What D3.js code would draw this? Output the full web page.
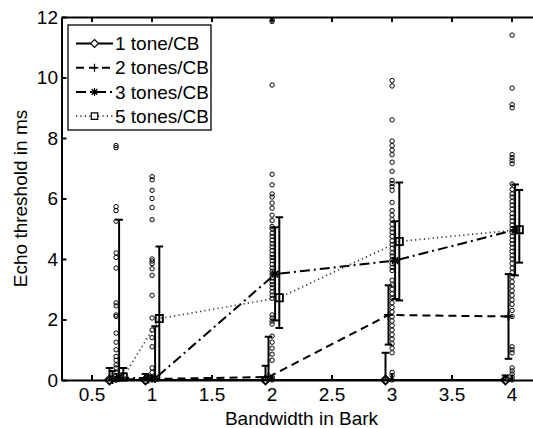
<!DOCTYPE html>
<html><head><meta charset="utf-8">
<script src="https://cdn.jsdelivr.net/npm/d3@7/dist/d3.min.js"></script>
<style>
html,body{margin:0;padding:0;background:#fff;}
svg{display:block;}
text{font-family:"Liberation Sans",Arial,Helvetica,sans-serif;fill:#000;}
</style></head>
<body>
<svg id="chart" width="533" height="428"></svg>
<script>
// ---- data ----
const bandwidths = [0.7, 1, 2, 3, 4];
const seriesNames = ["1 tone/CB", "2 tones/CB", "3 tones/CB", "5 tones/CB"];
const mean1 = [0, 0, 0, 0, 0];
const low1  = [-0.4, -0.2, -0.47, -0.9, -0.15];
const high1 = [0.4, 0.2, 0.47, 0.9, 0.15];
const mean2 = [0.02, 0.03, 0.1, 2.15, 2.1];
const low2  = [-0.3, -0.1, -1.23, 1.17, 0.7];
const high2 = [0.3, 0.15, 1.43, 3.13, 3.5];
const mean3 = [0.08, 0.05, 3.5, 3.95, 4.96];
const low3  = [-5.1, -1.7, 1.97, 2.68, 3.46];
const high3 = [5.3, 1.78, 5.05, 5.25, 6.46];
const mean5 = [0.1, 2.03, 2.72, 4.58, 4.97];
const low5  = [-0.2, -0.35, 1.72, 2.63, 3.88];
const high5 = [0.4, 4.41, 5.38, 6.53, 6.28];
// individual thresholds per bandwidth
const obs07 = [7.75, 7.68, 5.73, 5.6, 5.25, 4.2, 4.05, 3.7, 2.55, 2.45, 2.15, 2.1, 1.55, 1.25, 1.0, 0.78, 0.65, 0.5, 0.4, 0.25, 0.15, 0.05, 0, 0];
const obs1  = [6.72, 6.62, 6.27, 6.0, 5.7, 5.3, 4.0, 3.93, 3.85, 3.68, 3.46, 2.8, 2.05, 1.65, 1.4, 1.1, 0.4, 0.25, 0.1, 0.05, 0];
const obs2  = [11.9, 11.85, 9.75, 6.8, 6.45, 6.15, 6.05, 5.85, 5.68, 5.45, 5.27, 5.07, 5.0, 4.85, 4.75, 4.62, 4.5, 4.4, 4.28, 4.15, 4.05, 3.95, 3.82, 3.7, 3.6, 3.5, 3.38, 3.25, 3.15, 3.05, 2.92, 2.8, 2.7, 2.15, 2.05, 1.95, 1.85, 1.45, 1.25, 1.05, 0.85, 0.65, 0.1, 0.05, 0];
const obs3  = [9.9, 9.72, 8.6, 7.9, 7.75, 7.6, 7.45, 7.2, 6.9, 6.6, 6.5, 6.4, 6.27, 5.87, 5.6, 5.45, 5.3, 5.15, 5.0, 4.88, 4.75, 4.6, 4.48, 4.35, 4.2, 4.1, 3.98, 3.85, 3.72, 3.62, 3.3, 3.15, 3.0, 2.85, 2.7, 2.55, 2.4, 2.25, 2.1, 1.95, 1.8, 1.65, 1.5, 1.35, 1.2, 1.05, 0.9, 0.25, 0.15, 0];
const obs4  = [11.4, 9.65, 9.1, 9.0, 7.45, 7.35, 7.25, 7.15, 6.48, 6.3, 6.15, 6.05, 5.9, 5.78, 5.65, 5.5, 5.38, 5.25, 5.12, 5.0, 4.88, 4.75, 4.62, 4.5, 4.38, 4.25, 4.12, 4.0, 3.85, 3.7, 3.55, 3.4, 3.25, 3.1, 2.95, 2.8, 2.65, 2.5, 2.3, 2.1, 1.1, 1.0, 0.9, 0.4, 0.3, 0.2, 0.1, 0];
const xTickValues = [0.5, 1, 1.5, 2, 2.5, 3, 3.5, 4];
const xTickLabels = ["0.5", "1", "1.5", "2", "2.5", "3", "3.5", "4"];
const yTickValues = [0, 2, 4, 6, 8, 10, 12];
const yTickLabels = ["0", "2", "4", "6", "8", "10", "12"];
const xLabel = "Bandwidth in Bark";
const yLabel = "Echo threshold in ms";

// ---- layout / style ----
const FS = 19;
const svg = d3.select("#chart");
const x = d3.scaleLinear().domain([0.25, 4.25]).range([61.5, 541.5]);
const y = d3.scaleLinear().domain([0, 12]).range([380, 17]);
const seriesOffset = [-0.05, -0.025, 0.03, 0.065];
const obsOffset = 0.005;
const styles = [
  {dash: null, width: 2, color: "#000", marker: "diamond"},
  {dash: "8,5", width: 2, color: "#000", marker: "plus"},
  {dash: "10,4,2,4", width: 2, color: "#000", marker: "star"},
  {dash: "1.2,3.2", width: 1.7, color: "#333", marker: "square"}
];
const series = [
  {mean: mean1, low: low1, high: high1},
  {mean: mean2, low: low2, high: high2},
  {mean: mean3, low: low3, high: high3},
  {mean: mean5, low: low5, high: high5}
];
const observations = [obs07, obs1, obs2, obs3, obs4];

svg.append("defs").append("clipPath").attr("id", "clip")
  .append("rect").attr("x", x.range()[0]).attr("y", y.range()[1])
  .attr("width", x.range()[1] - x.range()[0]).attr("height", y.range()[0] - y.range()[1]);

// individual observations
const obsG = svg.append("g");
observations.forEach((vals, gi) => {
  obsG.selectAll(null).data(vals).enter().append("circle")
    .attr("cx", x(bandwidths[gi] + obsOffset))
    .attr("cy", d => y(d))
    .attr("r", 2.2)
    .attr("fill", "none").attr("stroke", "#000").attr("stroke-width", 1);
});

const plotG = svg.append("g").attr("clip-path", "url(#clip)");
const capHalf = 3.8;
series.forEach((s, si) => {
  const st = styles[si];
  const pts = bandwidths.map((b, i) => ({xv: b + seriesOffset[si], m: s.mean[i], lo: s.low[i], hi: s.high[i]}));
  // error bars
  const eb = plotG.append("g").attr("stroke", "#000").attr("stroke-width", 2);
  pts.forEach(p => {
    const px = x(p.xv);
    eb.append("line").attr("x1", px).attr("x2", px).attr("y1", y(p.lo)).attr("y2", y(p.hi));
    eb.append("line").attr("x1", px - capHalf).attr("x2", px + capHalf).attr("y1", y(p.hi)).attr("y2", y(p.hi));
    eb.append("line").attr("x1", px - capHalf).attr("x2", px + capHalf).attr("y1", y(p.lo)).attr("y2", y(p.lo));
  });
  const line = d3.line().x(p => x(p.xv)).y(p => y(p.m));
  plotG.append("path").datum(pts).attr("d", line)
    .attr("fill", "none").attr("stroke", st.color).attr("stroke-width", st.width)
    .attr("stroke-dasharray", st.dash);
});

function markerPath(type, r) {
  if (type === "diamond") return `M0,${-r}L${r},0L0,${r}L${-r},0Z`;
  if (type === "plus") return `M${-r},0H${r}M0,${-r}V${r}`;
  if (type === "star") { const d = r * 0.72; return `M${-r},0H${r}M0,${-r}V${r}M${-d},${-d}L${d},${d}M${-d},${d}L${d},${-d}`; }
  if (type === "square") return `M${-r},${-r}H${r}V${r}H${-r}Z`;
}
const mG = svg.append("g");
series.forEach((s, si) => {
  const st = styles[si];
  bandwidths.forEach((b, i) => {
    const r = st.marker === "square" ? 3.6 : 4.5;
    mG.append("path").attr("d", markerPath(st.marker, r))
      .attr("transform", `translate(${x(b + seriesOffset[si])},${y(s.mean[i])})`)
      .attr("fill", "none").attr("stroke", "#000").attr("stroke-width", 1.8);
  });
});

// axes
const fmtX = d => xTickLabels[xTickValues.indexOf(d)];
const fmtY = d => yTickLabels[yTickValues.indexOf(d)];
function styleAxis(g) {
  g.select(".domain").attr("stroke", "#000").attr("stroke-width", 2);
  g.selectAll(".tick line").attr("stroke", "#000").attr("stroke-width", 2);
  g.selectAll(".tick text").attr("font-size", FS).attr("font-family", null);
}
svg.append("g").attr("transform", `translate(0,${y(0)})`)
  .call(d3.axisBottom(x).tickValues(xTickValues).tickFormat(fmtX).tickSizeInner(-5).tickSizeOuter(0).tickPadding(7.5))
  .call(styleAxis);
svg.append("g").attr("transform", `translate(0,${y(12)})`)
  .call(d3.axisTop(x).tickValues(xTickValues).tickFormat("").tickSizeInner(-5).tickSizeOuter(0))
  .call(styleAxis);
svg.append("g").attr("transform", `translate(${x(0.25)},0)`)
  .call(d3.axisLeft(y).tickValues(yTickValues).tickFormat(fmtY).tickSizeInner(-5).tickSizeOuter(0).tickPadding(3.5))
  .call(styleAxis);
svg.append("g").attr("transform", `translate(${x(4.25)},0)`)
  .call(d3.axisRight(y).tickValues(yTickValues).tickFormat("").tickSizeInner(-5).tickSizeOuter(0))
  .call(styleAxis);

// labels
svg.append("text").attr("x", (x.range()[0] + x.range()[1]) / 2).attr("y", 425)
  .attr("text-anchor", "middle").attr("font-size", FS).text(xLabel);
svg.append("text").attr("transform", `translate(27,${(y.range()[0] + y.range()[1]) / 2}) rotate(-90)`)
  .attr("text-anchor", "middle").attr("font-size", FS).text(yLabel);

// legend
const lg = svg.append("g");
lg.append("rect").attr("x", 68).attr("y", 25).attr("width", 143).attr("height", 105)
  .attr("fill", "#fff").attr("stroke", "#000").attr("stroke-width", 1.3);
seriesNames.forEach((name, i) => {
  const st = styles[i];
  const cy = 43.5 + i * 24.2;
  lg.append("line").attr("x1", 76).attr("x2", 113).attr("y1", cy).attr("y2", cy)
    .attr("stroke", st.color).attr("stroke-width", st.width).attr("stroke-dasharray", st.dash);
  lg.append("path").attr("d", markerPath(st.marker, st.marker === "square" ? 3.2 : 4))
    .attr("transform", `translate(94.5,${cy})`)
    .attr("fill", (st.marker === "diamond" || st.marker === "square") ? "#fff" : "none")
    .attr("stroke", "#000").attr("stroke-width", 1.2);
  lg.append("text").attr("x", 115).attr("y", cy).attr("dy", "0.35em").attr("font-size", FS).text(name);
});
</script>
</body></html>
